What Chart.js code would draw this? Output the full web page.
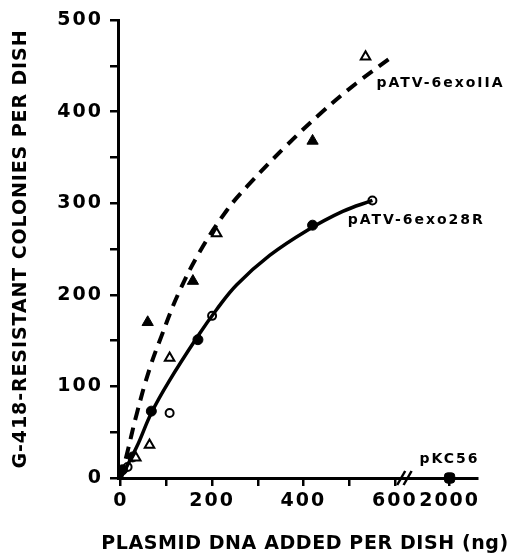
<!DOCTYPE html>
<html>
<head>
<meta charset="utf-8">
<script src="https://cdn.jsdelivr.net/npm/chart.js@4"></script>
<style>
  body { margin: 0; background: #fff; }
  canvas { display: block; }
</style>
</head>
<body>
<canvas id="chart" width="518" height="554"></canvas>
<script>
// curve traced through pATV-6exoIIA (dashed)
const curveAX = [0, 13, 35, 63, 90, 125, 173, 232, 276, 365, 442, 516, 589];
const curveAY = [0, 25, 70, 119, 156, 200, 247, 292, 318, 364, 400, 431, 458];
// curve traced through pATV-6exo28R (solid)
const curveBX = [0, 35, 67, 105, 169, 210, 254, 326, 407, 486, 551];
const curveBY = [0, 34, 71, 105, 155, 184, 211, 243, 270, 291, 303];

// measured points
const triFilledX = [59, 158, 420];
const triFilledY = [170, 215, 368];
const triOpenX = [33, 63, 107, 210, 536];
const triOpenY = [22, 36, 131, 267, 460];
const dotFilledX = [4, 26, 67, 169, 420];
const dotFilledY = [9, 23, 73, 151, 276];
const dotOpenX = [15, 107, 200, 551];
const dotOpenY = [12, 71, 177, 303];
const pkcX = [2000];
const pkcY = [0];

const xTicks = [0, 100, 200, 300, 400, 500, 600, 2000];
const xTickLabels = ['0', '', '200', '', '400', '', '600', '2000'];
const yTicks = [0, 50, 100, 150, 200, 250, 300, 350, 400, 450, 500];
const yTickLabels = ['0', '', '100', '', '200', '', '300', '', '400', '', '500'];

const xTitle = 'PLASMID DNA ADDED PER DISH (ng)';
const yTitle = 'G-418-RESISTANT COLONIES PER DISH';

// broken x axis: 0-600 linear, then 2000 placed after the break
function toAxis(v) {
  return v <= 600 ? v : 720 + (v - 2000) * 0.1;
}
function pts(xs, ys) {
  return xs.map((x, i) => ({ x: toAxis(x), y: ys[i] }));
}

const FONT = "'DejaVu Sans', sans-serif";

// the original lettering is widely spaced (canvas resets on resize, so set it each pass)
const spacing = {
  id: 'spacing',
  beforeUpdate(chart) { chart.ctx.letterSpacing = '2px'; },
  beforeLayout(chart) { chart.ctx.letterSpacing = '2px'; },
  beforeDraw(chart) { chart.ctx.letterSpacing = '2px'; }
};

// axis titles, axis break and curve labels
const extras = {
  id: 'extras',
  afterDraw(chart) {
    const { ctx, chartArea, scales: { x, y } } = chart;
    const base = y.getPixelForValue(0);
    ctx.save();
    ctx.strokeStyle = '#000';
    ctx.lineWidth = 2.5;
    [614, 628].forEach(v => {
      const px = x.getPixelForValue(v);
      ctx.beginPath();
      ctx.moveTo(px - 4, base + 7);
      ctx.lineTo(px + 4, base - 7);
      ctx.stroke();
    });

    ctx.fillStyle = '#000';
    ctx.textBaseline = 'middle';
    ctx.textAlign = 'center';
    ctx.font = 'bold 19px ' + FONT;
    ctx.letterSpacing = '0.6px';
    ctx.fillText(xTitle, 305, 544);

    ctx.save();
    ctx.translate(21, (chartArea.top + chartArea.bottom) / 2);
    ctx.rotate(-Math.PI / 2);
    ctx.letterSpacing = '0.9px';
    ctx.fillText(yTitle, 0, 0);
    ctx.restore();

    ctx.font = 'bold 14px ' + FONT;
    ctx.letterSpacing = '2px';
    ctx.textAlign = 'left';
    [['pATV-6exoIIA', 560, 431], ['pATV-6exo28R', 497, 281], ['pKC56', 654, 20]].forEach(([t, vx, vy]) => {
      ctx.fillText(t, x.getPixelForValue(vx), y.getPixelForValue(vy));
    });
    ctx.restore();
  }
};

new Chart(document.getElementById('chart').getContext('2d'), {
  type: 'scatter',
  data: {
    datasets: [
      {
        type: 'line', data: pts(curveAX, curveAY), borderColor: '#000', borderWidth: 4,
        borderDash: [12, 8], pointRadius: 0, tension: 0.4, fill: false, clip: false
      },
      {
        type: 'line', data: pts(curveBX, curveBY), borderColor: '#000', borderWidth: 3.5,
        pointRadius: 0, tension: 0.4, fill: false, clip: false
      },
      {
        data: pts(triFilledX, triFilledY), pointStyle: 'triangle', pointRadius: 6.5,
        backgroundColor: '#000', borderColor: '#000', borderWidth: 1, clip: false
      },
      {
        data: pts(triOpenX, triOpenY), pointStyle: 'triangle', pointRadius: 5.5,
        backgroundColor: '#fff', borderColor: '#000', borderWidth: 2, clip: false
      },
      {
        data: pts(dotFilledX, dotFilledY), pointStyle: 'circle', pointRadius: 5,
        backgroundColor: '#000', borderColor: '#000', borderWidth: 1, clip: false
      },
      {
        data: pts(dotOpenX, dotOpenY), pointStyle: 'circle', pointRadius: 4,
        backgroundColor: '#fff', borderColor: '#000', borderWidth: 2, clip: false
      },
      {
        data: pts(pkcX, pkcY), pointStyle: 'rectRounded', pointRadius: 6,
        backgroundColor: '#000', borderColor: '#000', borderWidth: 1, clip: false
      }
    ]
  },
  options: {
    responsive: false,
    animation: false,
    layout: { padding: { top: 20, right: 41, left: 0, bottom: 0 } },
    plugins: { legend: { display: false }, tooltip: { enabled: false } },
    scales: {
      x: {
        type: 'linear',
        min: -6,
        max: 780,
        afterFit(scale) { scale.height = 76; },
        afterBuildTicks(scale) { scale.ticks = xTicks.map(v => ({ value: toAxis(v) })); },
        ticks: {
          color: '#000', padding: 4, maxRotation: 0, autoSkip: false,
          font: { family: FONT, size: 19, weight: 'bold' },
          callback(value, i) { return xTickLabels[i]; }
        },
        grid: { drawOnChartArea: false, drawTicks: true, tickLength: 8, color: '#000', lineWidth: 2.5 },
        border: { display: true, color: '#000', width: 3 }
      },
      y: {
        min: 0,
        max: 500,
        afterFit(scale) { scale.width = 118; },
        afterBuildTicks(scale) { scale.ticks = yTicks.map(v => ({ value: v })); },
        ticks: {
          color: '#000', padding: 7, autoSkip: false,
          font: { family: FONT, size: 19, weight: 'bold' },
          callback(value, i) { return yTickLabels[i]; }
        },
        grid: { drawOnChartArea: false, drawTicks: true, tickLength: 8, color: '#000', lineWidth: 2.5 },
        border: { display: true, color: '#000', width: 3 }
      }
    }
  },
  plugins: [spacing, extras]
});
</script>
</body>
</html>
